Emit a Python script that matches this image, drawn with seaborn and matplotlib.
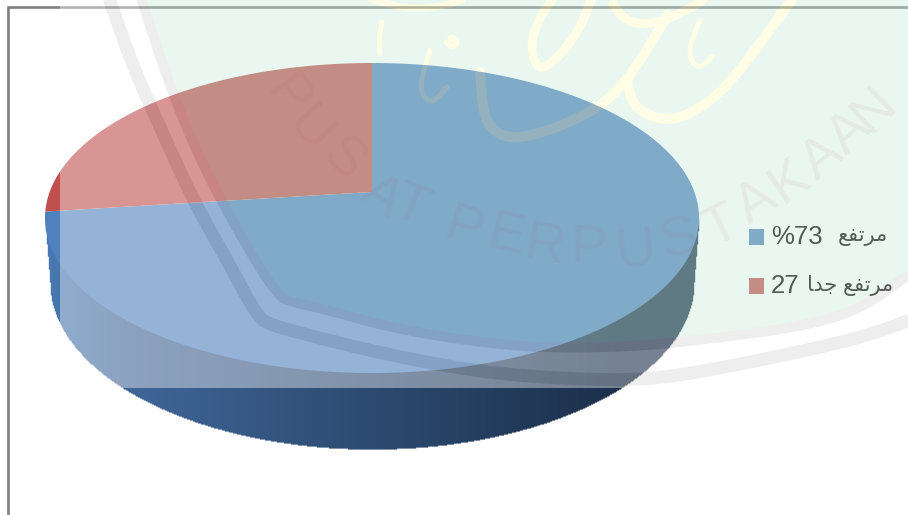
import numpy as np
import matplotlib
matplotlib.use("Agg")
import matplotlib.pyplot as plt
from matplotlib.figure import Figure
from matplotlib.backends.backend_agg import FigureCanvasAgg
from matplotlib.colors import LinearSegmentedColormap
import seaborn as sns

# ---------- data ----------
categories = ["مرتفع 73%", "مرتفع جدا 27"]
# legend strings: Arabic presentation forms in visual order (matplotlib does no shaping)
legend_numbers = ["%73", "27"]
legend_words = ["\ufeca\ufed4\ufe97\ufeae\ufee3", "\ufe8e\ufeaa\ufe9f \ufeca\ufed4\ufe97\ufeae\ufee3"]
values = [73, 27]
slice_colors = ["#4F81BD", "#C0504D"]

# ---------- watermark outline (pixel positions) ----------
outer_x = [108, 133, 160, 193, 227, 258, 272, 300, 367, 450, 520, 600, 650, 700, 800, 870, 915]
outer_y = [-5, 67, 127, 200, 260, 318, 325, 333, 350, 367, 376, 380, 379, 372, 352, 335, 318]
inner_x = [140, 170, 203, 247, 278, 292, 320, 400, 500, 567, 640, 700, 800, 860, 915]
inner_y = [-5, 87, 167, 247, 296, 302, 308, 330, 345, 348, 346, 340, 327, 310, 270]
yellow_strokes = [
    ([382, 379, 380], [22, 38, 54], 5),
    ([447, 452, 458, 452, 447], [42, 36, 42, 48, 42], 6),
    ([430, 420, 424, 433, 447], [50, 84, 98, 103, 87], 5),
    ([480, 483, 492, 513, 557, 600, 627, 650, 667], [72, 112, 130, 140, 128, 107, 80, 45, 15], 10),
    ([373, 407, 440, 462], [0, 9, 7, 0], 7),
    ([592, 578, 553, 537, 530, 540, 553], [-2, 33, 63, 70, 43, 17, -2], 9),
    ([613, 627, 657, 693, 705], [4, 23, 24, 7, -2], 9),
    ([627, 634, 673, 713, 740, 770, 795], [80, 110, 123, 100, 70, 30, -5], 10),
    ([700, 687, 698, 712], [20, 53, 70, 57], 5),
]
mark_letters = list("PUSATPERPUSTAKAAN")
mark_x = [287, 310, 343, 381, 411, 463, 506, 545, 588, 636, 680, 722, 757, 790, 822, 850, 874]
mark_y = [97, 130, 160, 197, 207, 230, 237, 247, 250, 250, 240, 227, 203, 182, 158, 133, 110]

# ---------- helpers ----------
W, H = 908, 515


def smooth(xs, ys, rounds=3):
    p = np.column_stack([xs, ys]).astype(float)
    for _ in range(rounds):
        q = np.empty((2 * len(p), 2))
        q[0::2] = 0.75 * p + 0.25 * np.roll(p, -1, axis=0)
        q[1::2] = 0.25 * p + 0.75 * np.roll(p, -1, axis=0)
        p = np.vstack([p[0], q[:-2], p[-1]])
    return p[:, 0], p[:, 1]


def pixel_axes(fig, zorder):
    a = fig.add_axes([0, 0, 1, 1], zorder=zorder)
    a.set_xlim(0, W)
    a.set_ylim(H, 0)
    a.axis("off")
    return a


sns.set_theme(style="white")
plt.rcParams["font.family"] = ["Liberation Sans", "DejaVu Sans"]
palette = sns.color_palette(slice_colors)

fig = plt.figure(figsize=(W / 100, H / 100), dpi=100, facecolor="white")
base = pixel_axes(fig, 1)

# frame
base.plot([8, 8, W], [H, 7, 7], color="#808080", lw=1.9, solid_joinstyle="miter")

# side wall: horizontal gradient drawn as one-pixel columns
cx, cy_top, rx_top, ry_top = 372, 218, 327, 155
cy_bot, rx_bot, ry_bot = 282, 322, 167
wall_cmap = LinearSegmentedColormap.from_list(
    "wall",
    [(0.0, "#4A7AB4"), (0.05, "#436FA5"), (0.13, "#3F6597"), (0.5, "#2C4A70"),
     (0.88, "#1B2F4A"), (1.0, "#1B2F4A")],
)
cols = np.arange(cx - rx_top, cx + rx_top + 1)
off_c = np.abs(cols - cx)
col_top = np.full_like(cols, cy_top, dtype=float)
col_bot = np.where(
    off_c <= rx_bot,
    cy_bot + ry_bot * np.sqrt(np.clip(1 - (off_c / rx_bot) ** 2, 0, 1)),
    cy_top + (rx_top - off_c) / (rx_top - rx_bot) * (cy_bot - cy_top),
)
base.vlines(cols, col_top, col_bot, colors=wall_cmap((cols - cols[0]) / (cols[-1] - cols[0])),
            linewidth=1.0, zorder=2)

# top face: pie angles, with the apex above the ellipse centre (perspective)
pie_ax = fig.add_axes([0, 0, 1, 1], zorder=2)
wedges, _ = pie_ax.pie(values, colors=palette, startangle=90, counterclock=False, frame=False)
apex = np.array([0.0, (cy_top - 192) / ry_top])
for w, col in zip(list(wedges), palette):
    th = np.radians(np.linspace(w.theta1, w.theta2, 400))
    d = np.column_stack([np.cos(th), np.sin(th)])
    b = d @ apex
    dist = -b + np.sqrt(b ** 2 - apex @ apex + 1)
    rim = apex + d * dist[:, None]
    w.remove()
    pie_ax.fill(np.r_[apex[0], rim[:, 0]], np.r_[apex[1], rim[:, 1]], color=col, lw=0)
pie_ax.set_aspect("auto")
pie_ax.set_xlim(-cx / rx_top, (W - cx) / rx_top)
pie_ax.set_ylim(-(H - cy_top) / ry_top, cy_top / ry_top)
pie_ax.axis("off")
pie_ax.patch.set_alpha(0)

# legend (real text, black under the translucent watermark)
legend_ax = pixel_axes(fig, 3)
legend_y = [237, 286]
legend_ax.scatter([756.5] * 2, legend_y, marker="s", s=118, c=palette, linewidths=0)
for num, word, y, right in zip(legend_numbers, legend_words, legend_y, [888, 893]):
    legend_ax.text(771, y, num, color="black", fontsize=18.5, ha="left", va="center")
    legend_ax.text(right, y, word, color="black", fontsize=15, ha="right", va="center")

# watermark layer: flattened off-screen, then laid over the chart at 40 %
off = Figure(figsize=(W / 100, H / 100), dpi=100, facecolor="white")
FigureCanvasAgg(off)
oa = off.add_axes([0, 0, 1, 1])
oa.set_xlim(0, W)
oa.set_ylim(H, 0)
oa.axis("off")
ix, iy = smooth(inner_x, inner_y)
oa.fill(np.r_[ix, W + 10, W + 10], np.r_[iy, -10, -10], color="#C8EBDA", lw=0)
for xs, ys, lw in yellow_strokes:
    sx, sy = smooth(xs, ys)
    oa.plot(sx, sy, color="#FFFBBE", lw=lw * 0.72, solid_capstyle="round")
ox, oy = smooth(outer_x, outer_y)
oa.plot(ox, oy, color="#D6D6D6", lw=13 * 0.72, solid_capstyle="butt")
oa.plot(ix, iy, color="#D6D6D6", lw=10 * 0.72, solid_capstyle="butt")
off.canvas.draw()
buf = np.asarray(off.canvas.buffer_rgba())[:, :, :3]

over = pixel_axes(fig, 4)
x0, y1 = 60, 388
over.imshow(buf[:y1, x0:], extent=(x0, W, y1, 0), alpha=0.4, aspect="auto",
            interpolation="nearest")
over.set_xlim(0, W)
over.set_ylim(H, 0)

# faint curved library mark
dx, dy = np.gradient(np.array(mark_x, float)), np.gradient(np.array(mark_y, float))
angles = np.degrees(np.arctan2(-dy, dx))
for ch, x, y, a in zip(mark_letters, mark_x, mark_y, angles):
    over.text(x, y, ch, fontsize=40, color="#B04070", alpha=0.07, rotation=a,
              rotation_mode="anchor", ha="center", va="center")

fig.savefig("out.png", dpi=100, facecolor="white")
